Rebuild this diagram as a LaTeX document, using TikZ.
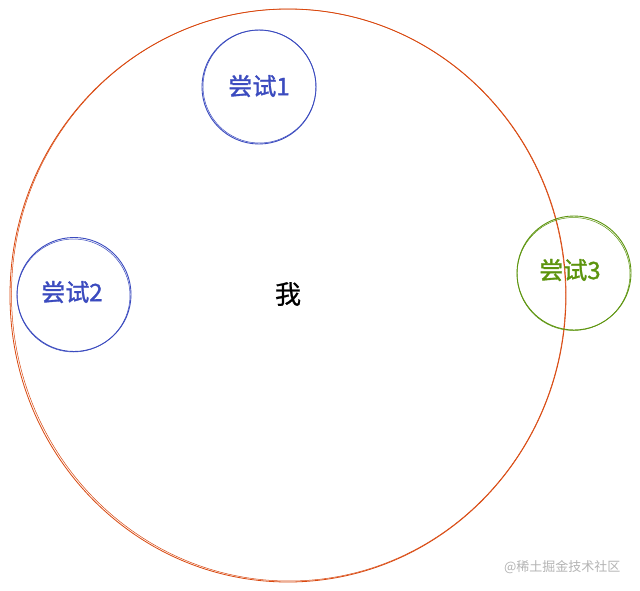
\documentclass[tikz,border=0pt]{standalone}
\usepackage{fontspec}
\setmainfont{Liberation Sans}
\newfontfamily\cjk{Noto Sans CJK SC}
\newfontfamily\cjkm[FakeBold=1.3]{Noto Sans CJK SC}
\newfontfamily\cjkw[FakeBold=0.8]{Noto Sans CJK SC}
\usetikzlibrary{shapes.geometric}
\definecolor{exblue}{HTML}{3B4BBF}
\definecolor{exgreen}{HTML}{5C940D}
\definecolor{exred}{HTML}{D9480F}
\definecolor{wmgray}{HTML}{B4B4B4}
\tikzset{
  bigring/.style={ellipse, draw=exred, line width=0.8pt, inner sep=0pt},
  tryring/.style={circle, draw=#1, line width=0.9pt, inner sep=0pt, minimum size=114pt},
  trylabel/.style={text=#1, font=\cjkm\fontsize{24}{28}\selectfont},
}
\begin{document}
\begin{tikzpicture}[x=1pt,y=-1pt]
\useasboundingbox[fill=white] (0,0) rectangle (640,591);
% big circle (hand-drawn double stroke)
\node[bigring, minimum width=556pt, minimum height=573pt] (me) at (288,295.5) {};
\node[bigring, minimum width=554pt, minimum height=572pt, rotate=2, line width=0.5pt] (me2) at (288.5,295) {};
\node[font=\cjkw\fontsize{26}{30}\selectfont] (meT) at (288,294) {我};
% attempt 1
\node[tryring=exblue] (t1) at (259,87) {};
\node[tryring=exblue, minimum size=113pt, line width=0.5pt] (t1b) at (259.5,86.5) {};
\node[trylabel=exblue] (t1T) at (259,86) {尝试1};
% attempt 2
\node[tryring=exblue] (t2) at (74,294.5) {};
\node[tryring=exblue, minimum size=113pt, line width=0.5pt] (t2b) at (73.5,295.5) {};
\node[trylabel=exblue] (t2T) at (72,292) {尝试2};
% attempt 3
\node[tryring=exgreen] (t3) at (574,273) {};
\node[tryring=exgreen, minimum size=113pt, line width=0.5pt] (t3b) at (573.5,274) {};
\node[trylabel=exgreen] (t3T) at (570,270) {尝试3};
% watermark
\node[text=wmgray, font=\cjk\fontsize{13}{15}\selectfont, anchor=east] (wm) at (624,567) {@稀土掘金技术社区};
\end{tikzpicture}
\end{document}
